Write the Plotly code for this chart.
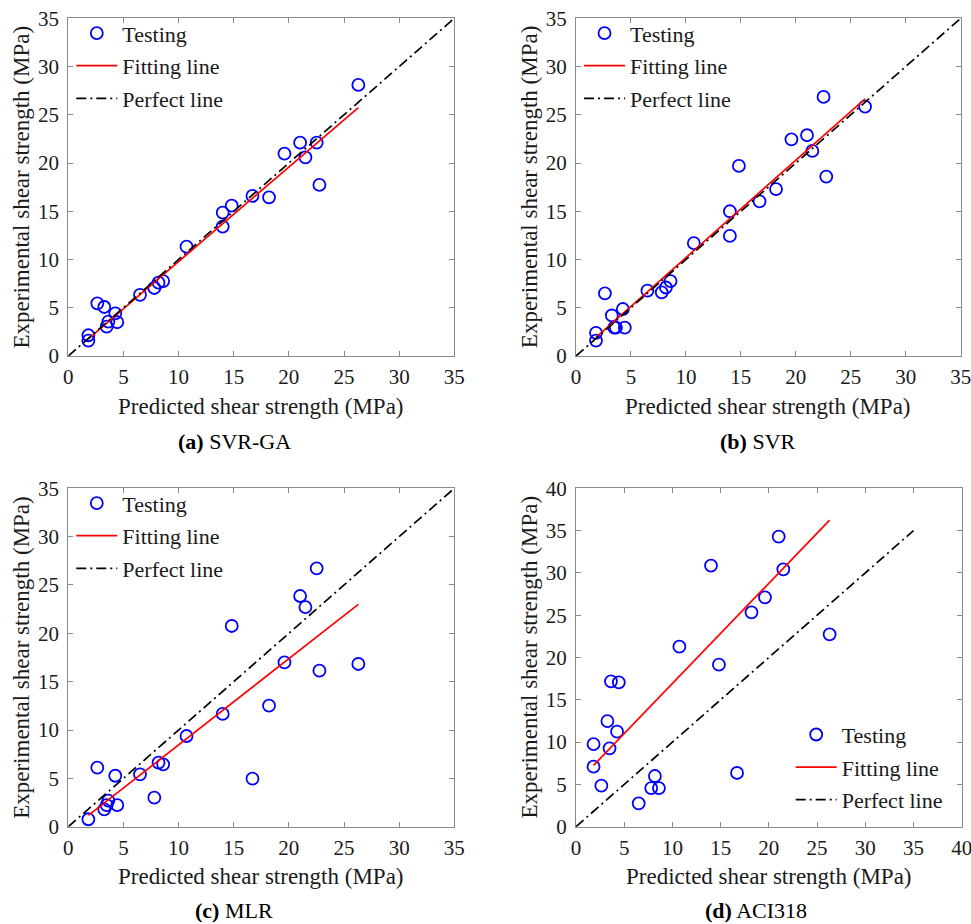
import plotly.graph_objects as go

# ---- data -------------------------------------------------------------
predicted = [1.82, 1.82, 2.63, 3.26, 3.48, 3.63, 4.26, 4.44, 6.50, 7.80, 8.18, 8.60,
             10.72, 14.00, 14.00, 14.82, 16.70, 18.20, 19.60, 21.02, 21.50, 22.52, 22.77, 26.30]

exp_svr_ga = [2.15, 1.59, 5.46, 5.08, 3.04, 3.56, 4.42, 3.50, 6.34, 7.05, 7.60, 7.77,
              11.33, 14.86, 13.41, 15.58, 16.59, 16.45, 20.97, 22.11, 20.59, 22.11, 17.73, 28.09]

exp_svr = [2.40, 1.60, 6.50, 4.20, 2.94, 2.94, 4.87, 2.94, 6.77, 6.60, 7.10, 7.77,
           11.70, 15.00, 12.44, 19.70, 16.03, 17.30, 22.46, 22.88, 21.25, 26.85, 18.60, 25.85]

exp_mlr = [0.77, None, 6.10, 1.80, 2.24, 2.69, 5.27, 2.24, 5.42, 3.00, 6.62, 6.45,
           9.38, 11.66, None, 20.76, 4.97, 12.52, 17.00, 23.86, 22.72, 26.72, 16.14, 16.83]

exp_aci = [9.77, 7.09, 4.85, 12.49, 9.26, 17.18, 11.23, 17.07, 2.76, 4.57, 5.99, 4.57,
           21.28, 30.86, None, 19.15, 6.35, 25.34, 27.11, 34.29, 30.42, None, None, 22.74]

panel_letters = ["a", "b", "c", "d"]
model_names = ["SVR-GA", "SVR", "MLR", "ACI318"]
fit_slopes = [0.979, 1.010, 0.892, 1.184]
fit_intercepts = [0.00, 0.09, -0.46, 5.09]
axis_max = [35, 35, 35, 40]
perfect_max = 35
tick_step = 5

x_title = "Predicted shear strength (MPa)"
y_title = "Experimental shear strength (MPa)"
legend_names = ["Testing", "Fitting line", "Perfect line"]

# ---- styling ----------------------------------------------------------
W, H = 971, 924
FONT = "Liberation Serif, Times New Roman, serif"
TXT = "#1a1a1a"
BOX = "#8a8a8a"

# axes rectangles in pixels (left, right, top, bottom)
rects = [
    (68.3, 454.3, 18.3, 356.0),
    (576.0, 960.7, 18.3, 356.0),
    (68.3, 454.3, 488.3, 826.7),
    (576.0, 961.7, 488.3, 826.7),
]
caption_pos = [(234, 442), (758, 442), (234, 910), (756, 910)]
series = [exp_svr_ga, exp_svr, exp_mlr, exp_aci]

fig = go.Figure()
layout = dict(
    width=W, height=H,
    margin=dict(l=0, r=0, t=0, b=0, autoexpand=False),
    paper_bgcolor="white", plot_bgcolor="white",
    font=dict(family=FONT, color=TXT, size=21),
    annotations=[],
)

def px_x(v):
    return v / W

def px_y(v):
    return 1 - v / H

for i, (l, r, t, b) in enumerate(rects):
    n = "" if i == 0 else str(i + 1)
    xa, ya = "x" + n, "y" + n
    leg = "legend" + n
    ys = series[i]
    xs = [p for p, e in zip(predicted, ys) if e is not None]
    x0, x1 = min(xs), max(xs)

    fig.add_trace(go.Scatter(
        x=predicted, y=ys, mode="markers", name=legend_names[0],
        marker=dict(symbol="circle-open", size=12, color="#0000ff",
                    line=dict(width=1.8, color="#0000ff")),
        xaxis=xa, yaxis=ya, legend=leg, legendgroup=f"t{i}",
    ))
    fig.add_trace(go.Scatter(
        x=[x0, x1],
        y=[fit_slopes[i] * x0 + fit_intercepts[i], fit_slopes[i] * x1 + fit_intercepts[i]],
        mode="lines", name=legend_names[1],
        line=dict(color="#ff0000", width=1.7),
        xaxis=xa, yaxis=ya, legend=leg, legendgroup=f"f{i}",
    ))
    fig.add_trace(go.Scatter(
        x=[0, perfect_max], y=[0, perfect_max], mode="lines", name=legend_names[2],
        line=dict(color="black", width=1.7, dash="10px,4px,2px,4px"),
        xaxis=xa, yaxis=ya, legend=leg, legendgroup=f"p{i}",
    ))

    ax_common = dict(
        range=[0, axis_max[i]], dtick=tick_step, tick0=0,
        showgrid=False, zeroline=False, automargin=False,
        ticklabeloverflow="allow",
        showline=True, linecolor=BOX, linewidth=1, mirror="ticks",
        ticks="inside", ticklen=5, tickwidth=1, tickcolor=BOX,
        tickfont=dict(family=FONT, size=21, color=TXT),
        fixedrange=True,
    )
    layout["xaxis" + n] = dict(ax_common, domain=[px_x(l), px_x(r)], anchor=ya,
                               ticklabelstandoff=2)
    layout["yaxis" + n] = dict(ax_common, domain=[px_y(b), px_y(t)], anchor=xa,
                               ticklabelstandoff=4)

    # axis titles
    layout["annotations"].append(dict(
        text=x_title, xref="paper", yref="paper",
        x=px_x((l + r) / 2), y=px_y(b + 50), xanchor="center", yanchor="middle",
        showarrow=False, font=dict(family=FONT, size=23, color=TXT)))
    layout["annotations"].append(dict(
        text=y_title, xref="paper", yref="paper", textangle=-90,
        x=px_x(l - 47), y=px_y((t + b) / 2), xanchor="center", yanchor="middle",
        showarrow=False, font=dict(family=FONT, size=23, color=TXT)))
    # panel caption
    cx, cy = caption_pos[i]
    layout["annotations"].append(dict(
        text=f"<b>({panel_letters[i]})</b> {model_names[i]}",
        xref="paper", yref="paper",
        x=px_x(cx), y=px_y(cy), xanchor="center", yanchor="middle",
        showarrow=False, font=dict(family=FONT, size=22, color="black")))

    leg_common = dict(
        bgcolor="rgba(255,255,255,0)", borderwidth=0,
        font=dict(family=FONT, size=22, color=TXT),
        tracegroupgap=1, itemwidth=41,
        xref="paper", yref="paper",
    )
    if i < 3:
        layout[leg] = dict(leg_common, x=px_x(l + 3), y=px_y(t - 6),
                           xanchor="left", yanchor="top")
    else:
        layout[leg] = dict(leg_common, x=px_x(r - 14), y=px_y(b - 6),
                           xanchor="right", yanchor="bottom")

fig.update_layout(**layout)
fig.write_html("out.html")
